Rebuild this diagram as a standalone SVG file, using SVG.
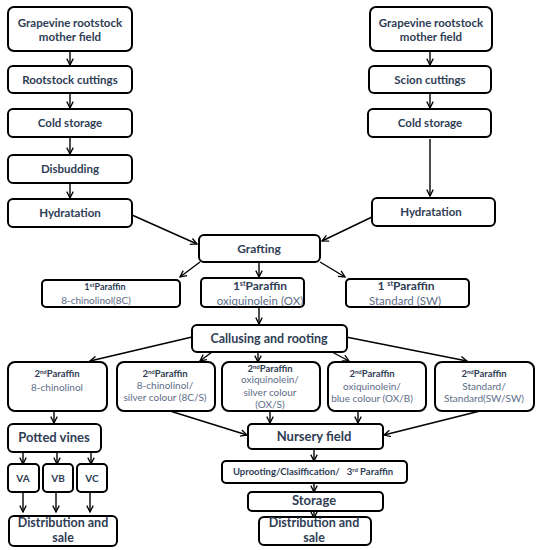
<svg xmlns="http://www.w3.org/2000/svg" width="538" height="550" viewBox="0 0 538 550">
<defs>
<marker id="ah" viewBox="0 0 10 10" refX="9" refY="5" markerWidth="8" markerHeight="8" orient="auto" markerUnits="userSpaceOnUse">
<path d="M1,1 L9,5 L1,9" fill="none" stroke="#000" stroke-width="1.6"/>
</marker>
<style>
.b{fill:#fff;stroke:#000;stroke-width:2}
.t{font-family:Lato,"Open Sans","Liberation Sans",sans-serif;font-weight:bold;fill:#2f3d55;text-anchor:middle}
.s{font-family:Lato,"Open Sans","Liberation Sans",sans-serif;fill:#5d6d88;text-anchor:middle}
.c line,.c path{stroke:#000;stroke-width:1.4;fill:none;marker-end:url(#ah)}
</style>
</defs>
<rect width="538" height="550" fill="#fff"/>
<g class="c">
<line x1="70" y1="51" x2="70" y2="65"/>
<line x1="70" y1="93" x2="70" y2="108"/>
<line x1="70" y1="137" x2="70" y2="154"/>
<line x1="70" y1="183" x2="70" y2="198"/>
<line x1="430" y1="51" x2="430" y2="65"/>
<line x1="430" y1="93" x2="430" y2="108"/>
<line x1="430" y1="139" x2="430" y2="196"/>
<line x1="132" y1="215" x2="197" y2="244"/>
<line x1="372" y1="217" x2="322" y2="241"/>
<line x1="200" y1="262" x2="180" y2="277"/>
<line x1="259" y1="262" x2="259" y2="277"/>
<line x1="320" y1="262" x2="345" y2="277"/>
<line x1="259" y1="307" x2="259" y2="324"/>
<line x1="192" y1="337" x2="90" y2="361"/>
<line x1="212" y1="352" x2="200" y2="361"/>
<line x1="258" y1="352" x2="258" y2="362"/>
<line x1="332" y1="352" x2="349" y2="361"/>
<line x1="346" y1="337" x2="467" y2="361"/>
<line x1="54" y1="411" x2="54" y2="423"/>
<line x1="170" y1="411" x2="247" y2="435"/>
<line x1="270" y1="411" x2="270" y2="423"/>
<line x1="358" y1="411" x2="358" y2="423"/>
<line x1="480" y1="411" x2="384" y2="435"/>
<line x1="314" y1="449" x2="314" y2="461"/>
<line x1="314" y1="483" x2="314" y2="492"/>
<line x1="314" y1="508" x2="314" y2="518"/>
<line x1="23" y1="452" x2="23" y2="464"/>
<line x1="57" y1="452" x2="57" y2="464"/>
<line x1="91" y1="452" x2="91" y2="464"/>
<line x1="23" y1="492" x2="23" y2="512"/>
<line x1="56" y1="492" x2="56" y2="512"/>
<line x1="90" y1="492" x2="90" y2="512"/>
</g>
<g id="n1"><rect class="b" x="8" y="7" width="124" height="44" rx="6"/><text class="t" font-size="11.5" x="70" y="27">Grapevine rootstock</text><text class="t" font-size="11.5" x="70" y="41">mother field</text></g>
<g id="n2"><rect class="b" x="8" y="66" width="124" height="27" rx="5"/><text class="t" font-size="11.5" x="70" y="84">Rootstock cuttings</text></g>
<g id="n3"><rect class="b" x="8" y="109" width="124" height="28" rx="5"/><text class="t" font-size="11.5" x="70" y="127">Cold storage</text></g>
<g id="n4"><rect class="b" x="8" y="155" width="124" height="28" rx="5"/><text class="t" font-size="11.5" x="70" y="173">Disbudding</text></g>
<g id="n5"><rect class="b" x="8" y="199" width="124" height="28" rx="5"/><text class="t" font-size="11.5" x="70" y="217">Hydratation</text></g>
<g id="n6"><rect class="b" x="370" y="7" width="122" height="44" rx="6"/><text class="t" font-size="11.5" x="431" y="27">Grapevine rootstock</text><text class="t" font-size="11.5" x="431" y="41">mother field</text></g>
<g id="n7"><rect class="b" x="369" y="66" width="122" height="27" rx="5"/><text class="t" font-size="11.5" x="430" y="84">Scion cuttings</text></g>
<g id="n8"><rect class="b" x="368" y="109" width="123" height="28" rx="5"/><text class="t" font-size="11.5" x="430" y="127">Cold storage</text></g>
<g id="n9"><rect class="b" x="372" y="198" width="123" height="28" rx="5"/><text class="t" font-size="11.5" x="431" y="216">Hydratation</text></g>
<g id="n10"><rect class="b" x="199" y="235" width="121" height="27" rx="5"/><text class="t" font-size="12" x="259" y="253">Grafting</text></g>
<g id="n11"><rect class="b" x="42" y="280" width="138" height="27" rx="4"/><text class="t" font-size="9" x="105" y="290">1<tspan font-size="6" dy="-3">st</tspan><tspan dy="3">Paraffin</tspan></text><text class="s" font-size="10" x="96" y="304">8-chinolinol(8C)</text></g>
<g id="n12"><rect class="b" x="201" y="278" width="103" height="29" rx="4"/><text class="t" font-size="12" x="260" y="290">1<tspan font-size="7" dy="-4">st</tspan><tspan dy="4">Paraffin</tspan></text><text class="s" font-size="11.5" x="260" y="305">oxiquinolein (OX)</text></g>
<g id="n13"><rect class="b" x="346" y="279" width="123" height="28" rx="4"/><text class="t" font-size="12" x="406" y="290">1 <tspan font-size="7" dy="-4">st</tspan><tspan dy="4">Paraffin</tspan></text><text class="s" font-size="11.5" x="405" y="305">Standard (SW)</text></g>
<g id="n14"><rect class="b" x="192" y="325" width="155" height="27" rx="5"/><text class="t" font-size="12.5" x="269" y="343">Callusing and rooting</text></g>
<g id="n15"><rect class="b" x="8" y="362" width="99" height="49" rx="7"/><text class="t" font-size="9.5" x="57" y="377">2<tspan font-size="6" dy="-3">nd</tspan><tspan dy="3">Paraffin</tspan></text><text class="s" font-size="10" x="57" y="391">8-chinolinol</text></g>
<g id="n16"><rect class="b" x="117" y="362" width="98" height="49" rx="7"/><text class="t" font-size="9.5" x="165" y="377">2<tspan font-size="6" dy="-3">nd</tspan><tspan dy="3">Paraffin</tspan></text><text class="s" font-size="10" x="165" y="389">8-chinolinol/</text><text class="s" font-size="10" x="165" y="401">silver colour (8C/S)</text></g>
<g id="n17"><rect class="b" x="222" y="362" width="98" height="49" rx="7"/><text class="t" font-size="9.5" x="270" y="372">2<tspan font-size="6" dy="-3">nd</tspan><tspan dy="3">Paraffin</tspan></text><text class="s" font-size="10" x="270" y="383">oxiquinolein/</text><text class="s" font-size="10" x="270" y="396">silver colour</text><text class="s" font-size="10" x="270" y="408">(OX/S)</text></g>
<g id="n18"><rect class="b" x="328" y="362" width="98" height="49" rx="7"/><text class="t" font-size="9.5" x="372" y="377">2<tspan font-size="6" dy="-3">nd</tspan><tspan dy="3">Paraffin</tspan></text><text class="s" font-size="10" x="372" y="390">oxiquinolein/</text><text class="s" font-size="10" x="372" y="402">blue colour (OX/B)</text></g>
<g id="n19"><rect class="b" x="435" y="362" width="99" height="49" rx="7"/><text class="t" font-size="9.5" x="484" y="377">2<tspan font-size="6" dy="-3">nd</tspan><tspan dy="3">Paraffin</tspan></text><text class="s" font-size="10" x="484" y="390">Standard/</text><text class="s" font-size="10" x="484" y="402">Standard(SW/SW)</text></g>
<g id="n20"><rect class="b" x="8" y="424" width="93" height="28" rx="5"/><text class="t" font-size="13" x="54" y="442">Potted vines</text></g>
<g id="n21"><rect class="b" x="8" y="464" width="31" height="28" rx="4"/><text class="t" font-size="10" x="23" y="482">VA</text></g>
<g id="n22"><rect class="b" x="43" y="464" width="30" height="28" rx="4"/><text class="t" font-size="10" x="58" y="482">VB</text></g>
<g id="n23"><rect class="b" x="77" y="464" width="30" height="28" rx="4"/><text class="t" font-size="10" x="92" y="482">VC</text></g>
<g id="n24"><rect class="b" x="9" y="516" width="108" height="30" rx="5"/><text class="t" font-size="12.5" x="63" y="527">Distribution and</text><text class="t" font-size="12.5" x="63" y="542">sale</text></g>
<g id="n25"><rect class="b" x="248" y="424" width="135" height="25" rx="4"/><text class="t" font-size="13" x="314" y="441">Nursery field</text></g>
<g id="n26"><rect class="b" x="222" y="461" width="185" height="22" rx="4"/><text class="t" font-size="9.5" x="313" y="475">Uprooting/Clasiffication/&#160;&#160; 3<tspan font-size="6" dy="-3">rd</tspan><tspan dy="3"> Paraffin</tspan></text></g>
<g id="n27"><rect class="b" x="248" y="492" width="135" height="19" rx="4"/><text class="t" font-size="13" x="314" y="505">Storage</text></g>
<g id="n28"><rect class="b" x="259" y="517" width="112" height="28" rx="5"/><text class="t" font-size="12.5" x="314" y="527">Distribution and</text><text class="t" font-size="12.5" x="314" y="542">sale</text></g>
</svg>
